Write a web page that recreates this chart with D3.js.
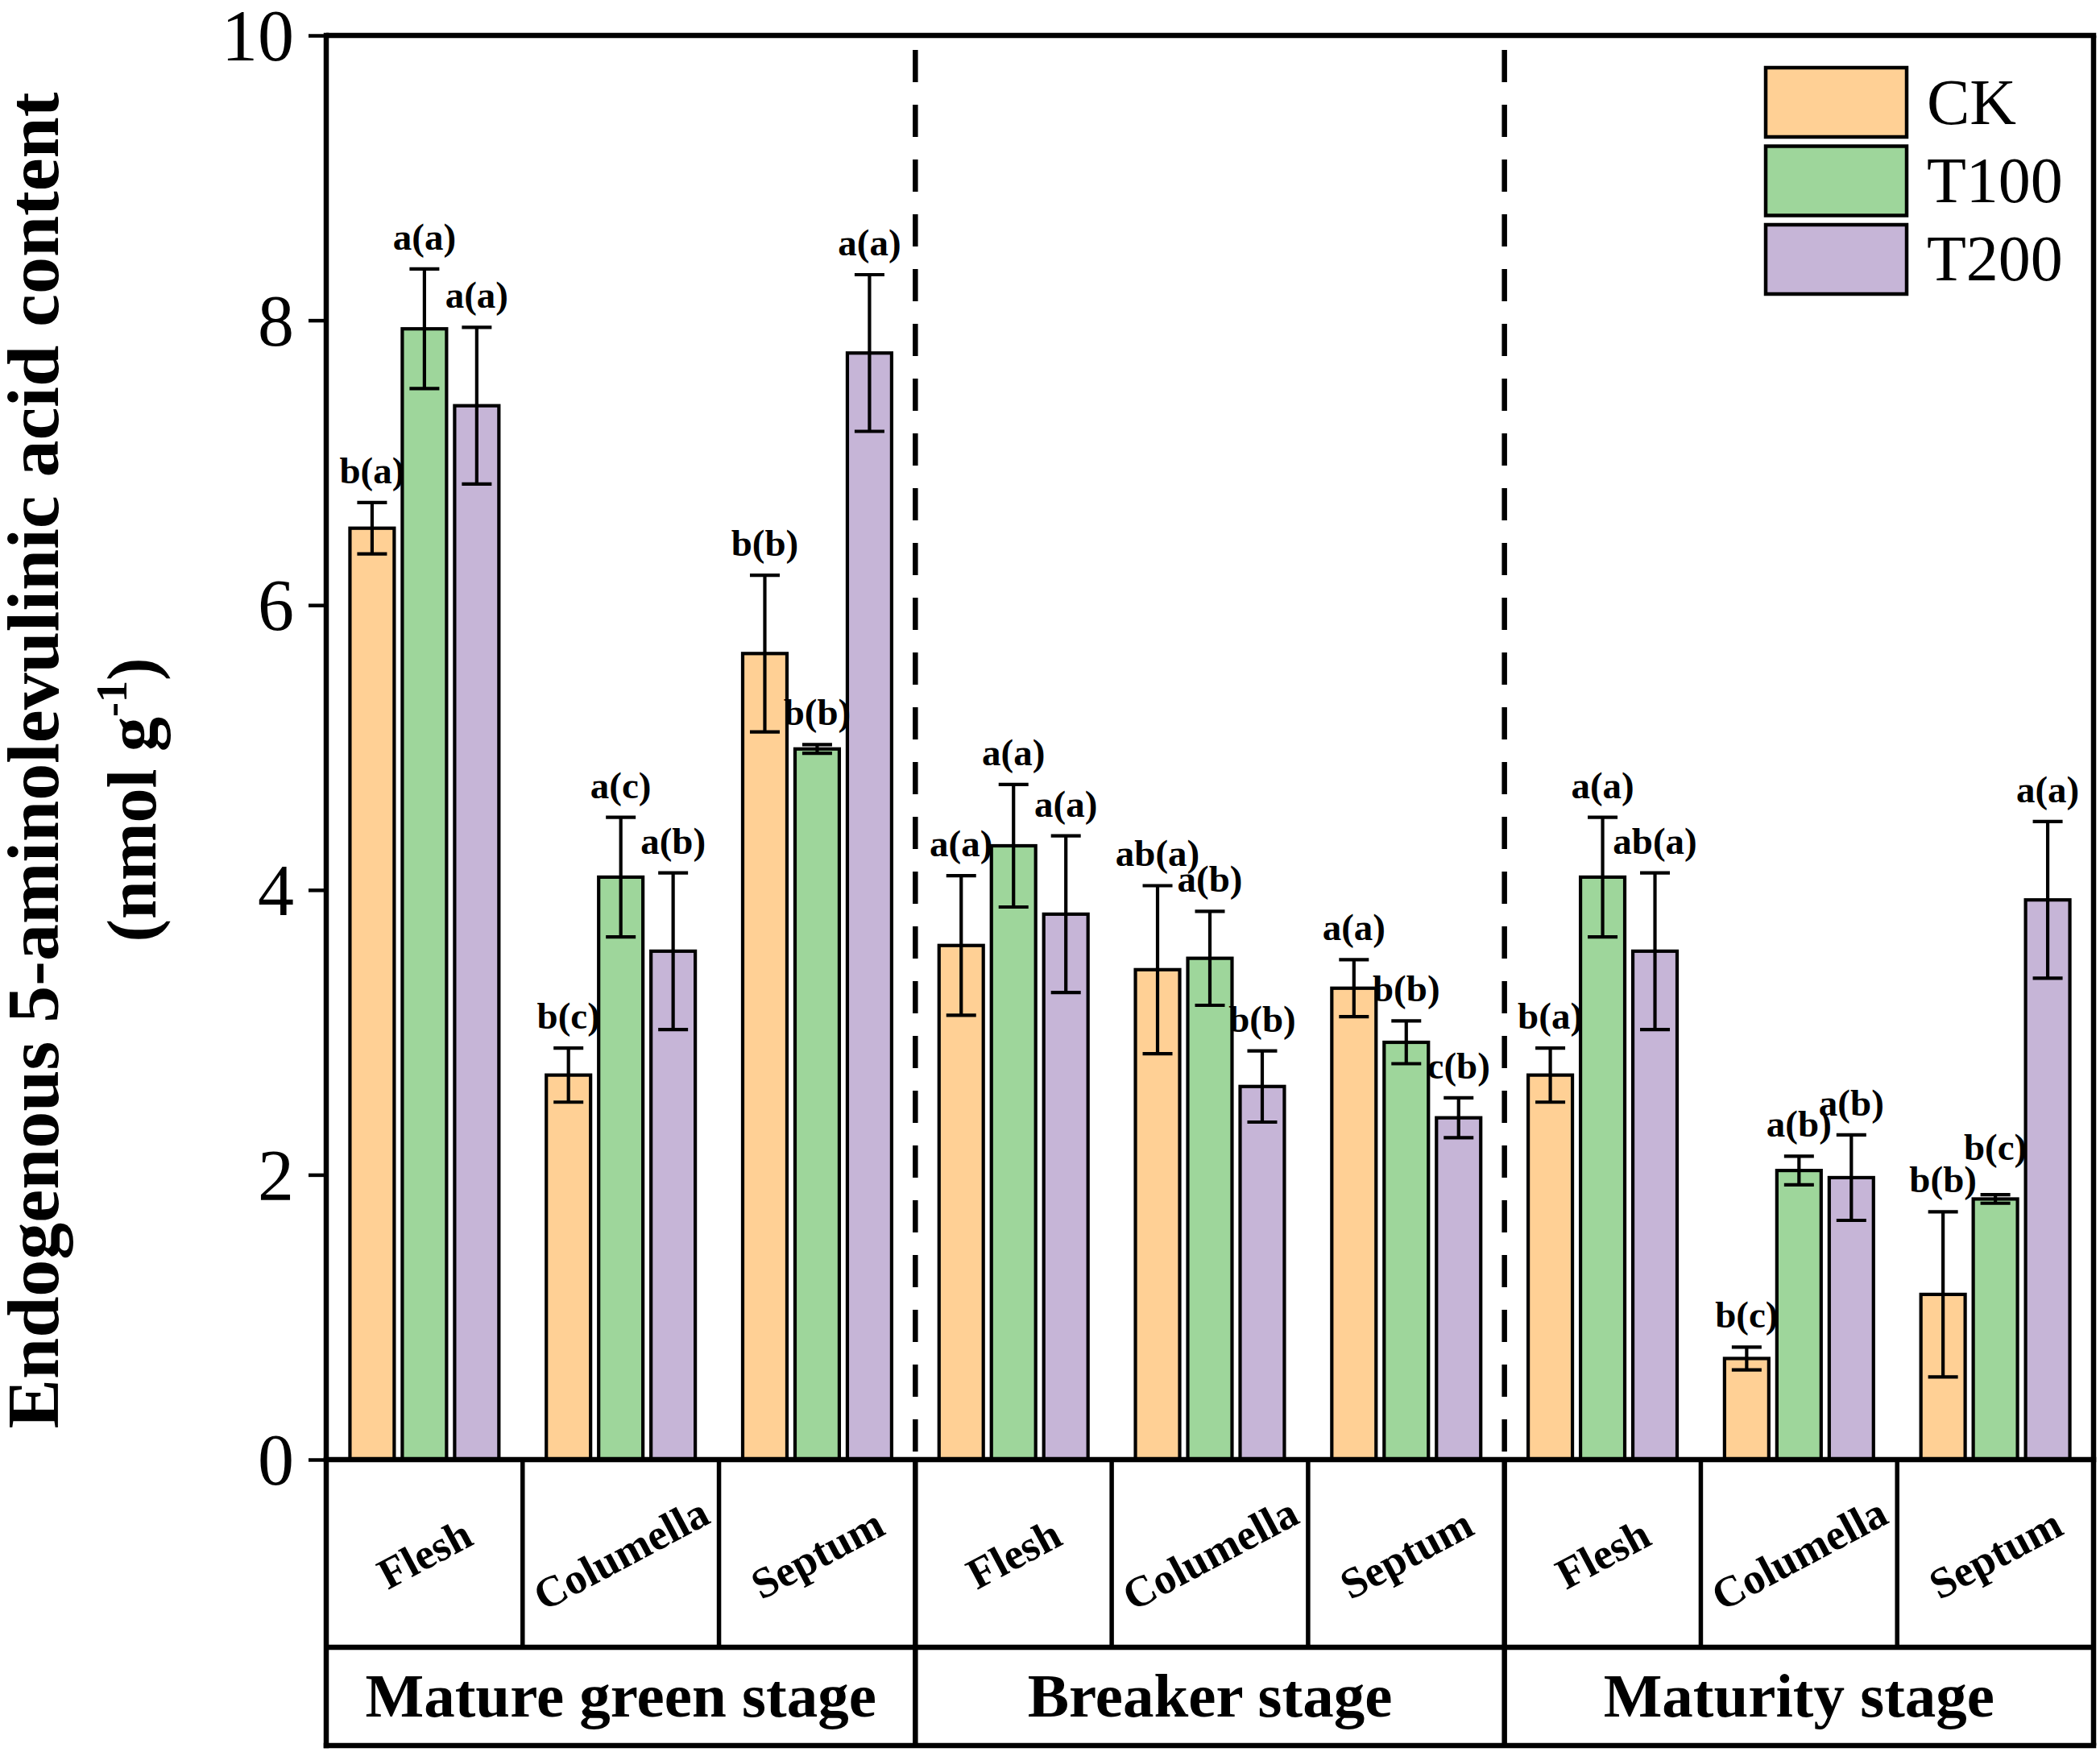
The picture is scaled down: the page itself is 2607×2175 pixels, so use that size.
<!DOCTYPE html>
<html>
<head>
<meta charset="utf-8">
<script src="https://cdn.jsdelivr.net/npm/d3@7/dist/d3.min.js"></script>
<style>
  html, body { margin: 0; padding: 0; background: #fff; }
  svg { display: block; }
  text { font-family: "Times New Roman", "Liberation Serif", serif; fill: #000; }
</style>
</head>
<body>
<svg id="chart" width="2607" height="2175"></svg>
<script>
// ---------------- data ----------------
const stages  = ["Mature green stage", "Breaker stage", "Maturity stage"];
const tissues = ["Flesh", "Columella", "Septum"];
const series  = ["CK", "T100", "T200"];
const colors  = ["#FFD095", "#9ED69B", "#C6B5D7"];

// values in order: MG Flesh, MG Columella, MG Septum, B Flesh, B Columella, B Septum, M Flesh, M Columella, M Septum
const ckValues   = [6.54, 2.70, 5.66, 3.61, 3.44, 3.31, 2.70, 0.71, 1.16];
const ckErrors   = [0.18, 0.19, 0.55, 0.49, 0.59, 0.20, 0.19, 0.08, 0.58];
const t100Values = [7.94, 4.09, 4.99, 4.31, 3.52, 2.93, 4.09, 2.03, 1.83];
const t100Errors = [0.42, 0.42, 0.03, 0.43, 0.33, 0.15, 0.42, 0.10, 0.03];
const t200Values = [7.40, 3.57, 7.77, 3.83, 2.62, 2.40, 3.57, 1.98, 3.93];
const t200Errors = [0.55, 0.55, 0.55, 0.55, 0.25, 0.14, 0.55, 0.30, 0.55];

const ckLetters   = ["b(a)", "b(c)", "b(b)", "a(a)", "ab(a)", "a(a)", "b(a)", "b(c)", "b(b)"];
const t100Letters = ["a(a)", "a(c)", "b(b)", "a(a)", "a(b)", "b(b)", "a(a)", "a(b)", "b(c)"];
const t200Letters = ["a(a)", "a(b)", "a(a)", "a(a)", "b(b)", "c(b)", "ab(a)", "a(b)", "a(a)"];

const yTicks = [0, 2, 4, 6, 8, 10];
const yTitle1 = "Endogenous 5-aminolevulinic acid content";

// ---------------- layout ----------------
const L = 405, R = 2599, T = 44, Y0 = 1812, ROW1 = 2045, BOT = 2167;
const markW = 4.2;

const svg = d3.select("#chart");

const cells = [];
stages.forEach((s, si) => tissues.forEach((t, ti) => cells.push({ key: si + "-" + ti, stage: s, tissue: t, idx: si * 3 + ti })));

const x0 = d3.scaleBand().domain(cells.map(c => c.key)).range([L, R]).padding(0);
const x1 = d3.scaleBand().domain(series).range([0, x0.bandwidth()]).paddingInner(0.108).paddingOuter(0.43);
const y = d3.scaleLinear().domain([0, 10]).range([Y0, T]);

const valueSets = [ckValues, t100Values, t200Values];
const errorSets = [ckErrors, t100Errors, t200Errors];
const letterSets = [ckLetters, t100Letters, t200Letters];

const points = [];
cells.forEach(c => series.forEach((s, k) => points.push({
  cell: c.key, series: s, k: k,
  v: valueSets[k][c.idx], e: errorSets[k][c.idx], lab: letterSets[k][c.idx]
})));

// ---------------- bars ----------------
const g = svg.append("g");
g.selectAll("rect.bar").data(points).join("rect")
  .attr("class", "bar")
  .attr("x", d => x0(d.cell) + x1(d.series) + 1.5)
  .attr("width", x1.bandwidth() - 3)
  .attr("y", d => y(d.v))
  .attr("height", d => Y0 - y(d.v))
  .attr("fill", d => colors[d.k])
  .attr("stroke", "#000")
  .attr("stroke-width", markW);

// error bars
const cap = 37;
const eg = g.selectAll("g.err").data(points).join("g").attr("class", "err")
  .attr("transform", d => `translate(${x0(d.cell) + x1(d.series) + x1.bandwidth() / 2},0)`);
eg.append("line").attr("x1", 0).attr("x2", 0)
  .attr("y1", d => y(d.v + d.e)).attr("y2", d => y(d.v - d.e))
  .attr("stroke", "#000").attr("stroke-width", markW);
eg.append("line").attr("x1", -cap / 2).attr("x2", cap / 2)
  .attr("y1", d => y(d.v + d.e)).attr("y2", d => y(d.v + d.e))
  .attr("stroke", "#000").attr("stroke-width", markW);
eg.append("line").attr("x1", -cap / 2).attr("x2", cap / 2)
  .attr("y1", d => y(d.v - d.e)).attr("y2", d => y(d.v - d.e))
  .attr("stroke", "#000").attr("stroke-width", markW);

// significance letters
const labels = eg.append("text")
  .attr("class", "sig")
  .attr("x", 0)
  .attr("y", d => y(d.v + d.e) - 24)
  .attr("text-anchor", "middle")
  .attr("font-weight", "bold")
  .attr("font-size", 47)
  .text(d => d.lab);

// lift a label that sits squarely on its left neighbour's label
const labelNodes = labels.nodes();
for (let i = 1; i < labelNodes.length; i++) {
  const a = points[i - 1], b = points[i];
  if (a.cell !== b.cell) continue;
  const ba = labelNodes[i - 1].getBBox(), bb = labelNodes[i].getBBox();
  const axL = x1(a.series) + ba.x, axR = axL + ba.width;
  const bxL = x1(b.series) + bb.x, bxR = bxL + bb.width;
  const hOv = Math.min(axR, bxR) - Math.max(axL, bxL);
  const vOv = Math.min(ba.y + ba.height, bb.y + bb.height) - Math.max(ba.y, bb.y);
  if (hOv > 0 && vOv > 30) {
    const yA = +labelNodes[i - 1].getAttribute("y");
    labelNodes[i].setAttribute("y", yA - 40);
  }
}

// ---------------- dashed stage separators ----------------
[3, 6].forEach(i => {
  const xx = x0(cells[i].key);
  svg.append("line").attr("x1", xx).attr("x2", xx).attr("y1", 62).attr("y2", Y0)
    .attr("stroke", "#000").attr("stroke-width", 6.5).attr("stroke-dasharray", "40,28");
});

// ---------------- frame ----------------
const lw = 6.5;
svg.append("line").attr("x1", L).attr("x2", R + lw / 2).attr("y1", T).attr("y2", T).attr("stroke", "#000").attr("stroke-width", lw);
svg.append("line").attr("x1", R).attr("x2", R).attr("y1", T).attr("y2", BOT).attr("stroke", "#000").attr("stroke-width", lw);
svg.append("line").attr("x1", L - lw / 2).attr("x2", R + lw / 2).attr("y1", Y0).attr("y2", Y0).attr("stroke", "#000").attr("stroke-width", lw);
svg.append("line").attr("x1", L).attr("x2", R).attr("y1", ROW1).attr("y2", ROW1).attr("stroke", "#000").attr("stroke-width", lw);
svg.append("line").attr("x1", L - lw / 2).attr("x2", R + lw / 2).attr("y1", BOT).attr("y2", BOT).attr("stroke", "#000").attr("stroke-width", lw);

// tissue row separators
cells.forEach((c, i) => {
  if (i === 0) return;
  const xx = x0(c.key);
  const full = (i % 3 === 0);
  svg.append("line").attr("x1", xx).attr("x2", xx).attr("y1", Y0).attr("y2", full ? BOT : ROW1)
    .attr("stroke", "#000").attr("stroke-width", full ? lw : 5.5);
});

// tissue labels
svg.selectAll("text.tissue").data(cells).join("text")
  .attr("class", "tissue")
  .attr("transform", d => `translate(${x0(d.key) + x0.bandwidth() / 2},${(Y0 + ROW1) / 2}) rotate(-28)`)
  .attr("text-anchor", "middle")
  .attr("dy", "0.35em")
  .attr("font-weight", "bold")
  .attr("font-size", 54)
  .text(d => d.tissue);

// stage labels
svg.selectAll("text.stage").data(stages).join("text")
  .attr("class", "stage")
  .attr("x", (d, i) => (x0(cells[i * 3].key) + x0(cells[i * 3 + 2].key) + x0.bandwidth()) / 2)
  .attr("y", 2131)
  .attr("text-anchor", "middle")
  .attr("font-weight", "bold")
  .attr("font-size", 77)
  .text(d => d);

// ---------------- y axis ----------------
const yAxis = svg.append("g").attr("transform", `translate(${L},0)`)
  .call(d3.axisLeft(y).tickValues(yTicks).tickSize(22).tickPadding(18).tickFormat(d3.format("d")));
yAxis.select(".domain").remove();
yAxis.selectAll(".tick line").attr("stroke", "#000").attr("stroke-width", 4.5);
yAxis.selectAll(".tick text").attr("font-size", 90).attr("font-family", "'Times New Roman','Liberation Serif',serif").attr("fill", "#000").attr("dy", "0.34em");
svg.append("line").attr("x1", L).attr("x2", L).attr("y1", T - lw / 2).attr("y2", BOT + lw / 2).attr("stroke", "#000").attr("stroke-width", lw);

// y title
svg.append("text")
  .attr("transform", "translate(72,944) rotate(-90)")
  .attr("text-anchor", "middle")
  .attr("font-weight", "bold")
  .attr("font-size", 92)
  .text(yTitle1);
const t2 = svg.append("text")
  .attr("transform", "translate(193,993) rotate(-90)")
  .attr("text-anchor", "middle")
  .attr("font-weight", "bold")
  .attr("font-size", 86);
t2.append("tspan").text("(nmol g");
t2.append("tspan").attr("font-size", 54).attr("dy", -36).text("-1");
t2.append("tspan").attr("dy", 36).text(")");

// ---------------- legend ----------------
const lg = svg.append("g");
series.forEach((s, k) => {
  lg.append("rect").attr("x", 2192).attr("y", 84 + k * 97.5).attr("width", 175).attr("height", 86)
    .attr("fill", colors[k]).attr("stroke", "#000").attr("stroke-width", 4.5);
  lg.append("text").attr("x", 2392).attr("y", 154 + k * 97).attr("font-size", 80).text(s);
});
</script>
</body>
</html>
